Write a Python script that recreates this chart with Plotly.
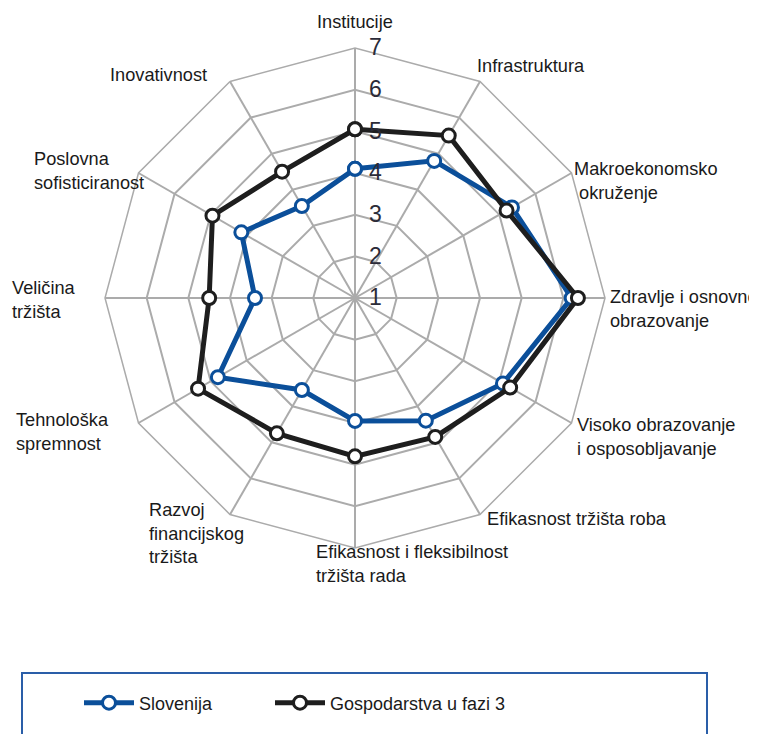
import plotly.graph_objects as go

categories = [
    "Institucije", "Infrastruktura", "Makroekonomsko okruženje",
    "Zdravlje i osnovno obrazovanje", "Visoko obrazovanje i osposobljavanje",
    "Efikasnost tržišta roba", "Efikasnost i fleksibilnost tržišta rada",
    "Razvoj financijskog tržišta", "Tehnološka spremnost", "Veličina tržišta",
    "Poslovna sofisticiranost", "Inovativnost",
]
label_texts = [
    "Institucije", "Infrastruktura", "Makroekonomsko<br> okruženje",
    "Zdravlje i osnovno<br>obrazovanje", "Visoko obrazovanje<br>i osposobljavanje",
    "Efikasnost tržišta roba", "Efikasnost i fleksibilnost<br>tržišta rada",
    "Razvoj<br>financijskog<br>tržišta", "Tehnološka<br>spremnost", "Veličina<br>tržišta",
    "Poslovna<br>sofisticiranost", "Inovativnost",
]
slovenija = [4.1, 4.8, 5.35, 6.2, 5.1, 4.4, 3.95, 3.55, 4.8, 3.4, 4.15, 3.55]
faza3 = [5.05, 5.5, 5.2, 6.35, 5.3, 4.85, 4.8, 4.75, 5.35, 4.5, 4.95, 4.5]
radial_ticks = [1, 2, 3, 4, 5, 6, 7]

W, H = 757, 734
OFF = 8  # page body margin


def fx(px):
    return (px - OFF) / W


def fy(py):
    return 1 - (py - OFF) / H


# label anchor positions in screen pixels (x, y-center, xanchor)
label_pos = [
    (355, 22, "center"), (475, 66, "left"), (572, 181, "left"),
    (608, 309, "left"), (575, 437, "left"), (485, 519, "left"),
    (314, 564, "left"), (147, 533, "left"), (14, 432, "left"),
    (10, 300, "left"), (32, 171, "left"), (108, 75, "left"),
]

blue = "#0b4f9a"
black = "#1e1e1e"
grid = "#ababab"

fig = go.Figure()
for name, vals, col, leg in [("Slovenija", slovenija, blue, "legend"),
                             ("Gospodarstva u fazi 3", faza3, black, "legend2")]:
    fig.add_trace(go.Scatterpolar(
        r=vals + vals[:1], theta=categories + categories[:1], name=name,
        mode="lines+markers", legend=leg,
        line=dict(color=col, width=5),
        marker=dict(symbol="circle", size=13, color="white", line=dict(color=col, width=3)),
    ))

annotations = []
for txt, (px, py, anc) in zip(label_texts, label_pos):
    annotations.append(dict(
        text=txt, x=fx(px), y=fy(py), xref="paper", yref="paper",
        xanchor=anc, yanchor="middle", align="left", showarrow=False,
        font=dict(family="Liberation Sans, Arial, sans-serif", size=18.2, color="#1a1a1a"),
    ))

pad = "\u2002\u200a"
leg_font = dict(family="Liberation Sans, Arial, sans-serif", size=18, color="#1a1a1a")

fig.update_layout(
    width=W, height=H, margin=dict(l=0, r=0, t=0, b=0),
    paper_bgcolor="white", plot_bgcolor="white",
    showlegend=True,
    polar=dict(
        domain=dict(x=[fx(105), fx(605)], y=[fy(548), fy(48)]),
        gridshape="linear", bgcolor="white",
        radialaxis=dict(
            range=[1, 7], tickvals=radial_ticks, ticktext=[pad + str(t) for t in radial_ticks],
            angle=90, tickangle=90, side="clockwise", showline=False, ticks="",
            gridcolor=grid, gridwidth=1.5,
            tickfont=dict(family="Liberation Sans Narrow, Arial Narrow, sans-serif", size=23, color="#2b2b38"),
        ),
        angularaxis=dict(
            direction="clockwise", rotation=90, showticklabels=False, ticks="",
            gridcolor=grid, gridwidth=1.5, linecolor=grid, linewidth=1.5,
        ),
    ),
    legend=dict(
        orientation="h", x=fx(79), y=fy(703), xanchor="left", yanchor="middle",
        font=leg_font, bgcolor="rgba(0,0,0,0)", itemwidth=50,
    ),
    legend2=dict(
        orientation="h", x=fx(270), y=fy(703), xanchor="left", yanchor="middle",
        font=leg_font, bgcolor="rgba(0,0,0,0)", itemwidth=50,
    ),
    shapes=[dict(type="rect", xref="paper", yref="paper",
                 x0=fx(22), x1=fx(707), y0=-0.2, y1=fy(673),
                 line=dict(color="#2a5ea8", width=2), fillcolor="rgba(0,0,0,0)")],
    annotations=annotations,
)

fig.write_html("out.html")
